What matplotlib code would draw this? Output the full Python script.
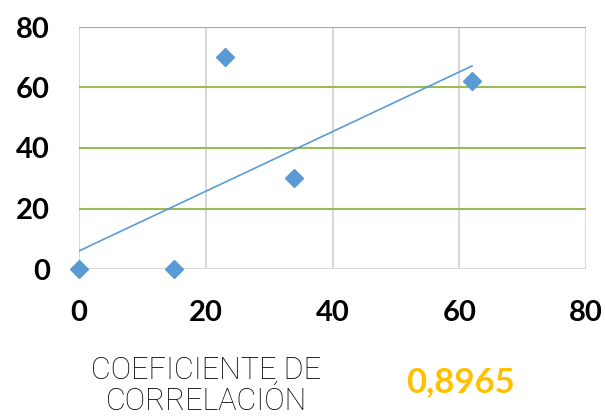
import numpy as np
import matplotlib
matplotlib.use("Agg")
import matplotlib.pyplot as plt

# Data
x_vals = [0, 15, 23, 34, 62]
y_vals = [0, 0, 70, 30, 62]
x_ticks = [0, 20, 40, 60, 80]
y_ticks = [0, 20, 40, 60, 80]
label_text = "COEFICIENTE DE\nCORRELACIÓN"
coef_text = "0,8965"

fig = plt.figure(figsize=(6.05, 4.18), dpi=100)
ax = fig.add_axes([79/605, 1 - 269/418, (586-79)/605, (269-27)/418])

ax.set_xlim(0, 80)
ax.set_ylim(0, 80)
for s in ax.spines.values():
    s.set_visible(False)

# grid
for yt in y_ticks[1:]:
    ax.axhline(yt, color="#9BBB59", lw=1.5, zorder=1)
for xt in x_ticks:
    ax.axvline(xt, color="#D9D9D9", lw=1.5, zorder=0.5)
ax.axhline(0, color="#D9D9D9", lw=1.5, zorder=1)

# trend line
m, b = np.polyfit(x_vals, y_vals, 1)
xl = np.array([min(x_vals), max(x_vals)])
ax.plot(xl, m * xl + b, color="#5B9BD5", lw=1.2, zorder=2)

ax.plot(x_vals, y_vals, linestyle="none", marker="D", ms=9.5,
        color="#5B9BD5", zorder=3, clip_on=False)

ax.set_xticks(x_ticks)
ax.set_yticks(y_ticks)
ax.tick_params(length=0, labelsize=21)
for lab in ax.get_xticklabels() + ax.get_yticklabels():
    lab.set_fontfamily(["Lato", "DejaVu Sans"])
    lab.set_fontweight("bold")
ax.tick_params(axis="x", pad=22)
ax.tick_params(axis="y", pad=21)

fig.text(206/605, 1 - 386/418, label_text, ha="center", va="center",
         fontsize=22, fontfamily=["Roboto", "DejaVu Sans"], fontweight="light",
         color="#000000", linespacing=1.1)
fig.text(460/605, 1 - 382/418, coef_text, ha="center", va="center",
         fontsize=25, fontfamily=["Lato", "DejaVu Sans"], fontweight="bold",
         color="#FFC000")

fig.savefig("out.png", dpi=100)
